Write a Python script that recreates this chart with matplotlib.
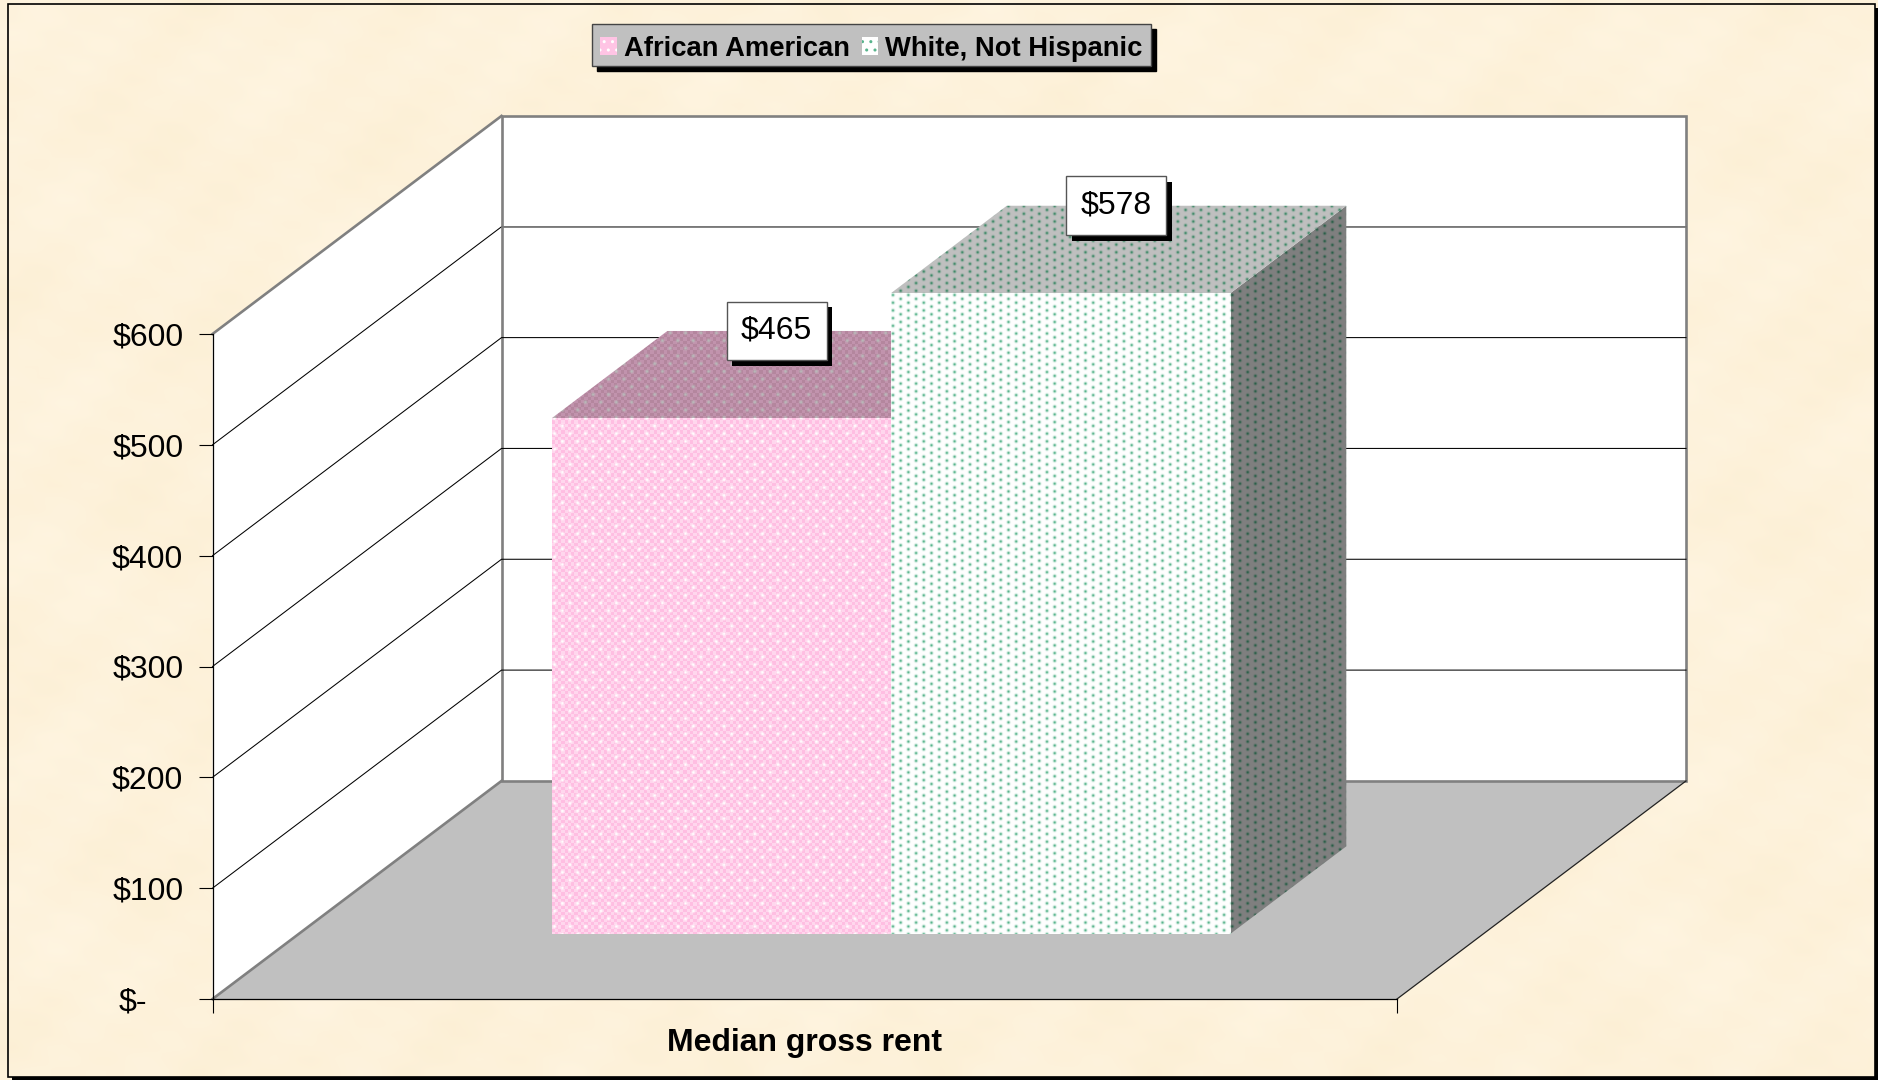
import numpy as np
import matplotlib
matplotlib.use('Agg')
import matplotlib.pyplot as plt
import matplotlib.patheffects as pe
from matplotlib.patches import Polygon, Patch, Rectangle
from matplotlib.ticker import FixedLocator
from matplotlib.transforms import ScaledTranslation

plt.rcParams['font.family'] = ['Liberation Sans', 'DejaVu Sans']

# data
category = 'Median gross rent'
series = ['African American', 'White, Not Hispanic']
values = [465, 578]
value_labels = ['$465', '$578']
y_ticks = [0, 100, 200, 300, 400, 500, 600]
y_labels = ['$-', '$100', '$200', '$300', '$400', '$500', '$600']

W, H = 1878, 1080
DPI = 100

# oblique 3D look: how far the back wall is shifted from the front plane
DEPTH_X = 289 / 1184.5   # in axis x units
DEPTH_Y = 218 / 1.108    # in dollars
BAR_MARGIN = 0.2132
BAR_WIDTH = 0.2866
BAR_D0, BAR_D1 = 0.3, 0.7


def project(x, val, d):
    return (x + d * DEPTH_X, val + d * DEPTH_Y)


def lattice(px, py, cw, ch, sigma):
    # soft dots on a staggered grid, 0..1
    out = np.zeros(px.shape)
    for ox, oy in [(0, 0), (cw / 2, ch / 2)]:
        dx = (px - ox + cw / 2) % cw - cw / 2
        dy = (py - oy + ch / 2) % ch - ch / 2
        out = np.maximum(out, np.exp(-(dx**2 + dy**2) / (2 * sigma**2)))
    return out


def mix(base, top, w):
    base = np.array(matplotlib.colors.to_rgb(base))
    top = np.array(matplotlib.colors.to_rgb(top))
    return base[None, None, :] * (1 - w[..., None]) + top[None, None, :] * w[..., None]


def pink_tex(c1, c2, dot):
    def tex(px, py):
        cell = 3.3
        chk = ((np.floor(px / cell) + np.floor(py / cell)) % 2)
        img = mix(c1, c2, chk)
        w = lattice(px, py, 15.4, 15.4, 1.25)[..., None]
        return img * (1 - w) + np.array(matplotlib.colors.to_rgb(dot))[None, None, :] * w
    return tex


def green_tex(base, dot):
    def tex(px, py):
        return mix(base, dot, lattice(px, py, 15.4, 7.7, 1.05))
    return tex


def face(ax, pts, tex, zorder):
    # fill a polygon given in data coordinates with a pixel pattern
    pts = np.array(pts)
    x0, x1 = pts[:, 0].min(), pts[:, 0].max()
    y0, y1 = pts[:, 1].min(), pts[:, 1].max()
    (d0x, d0y), (d1x, d1y) = ax.transData.transform([(x0, y0), (x1, y1)])
    nx, ny = int(np.ceil(d1x - d0x)), int(np.ceil(d1y - d0y))
    px, py = np.meshgrid(d0x + np.arange(nx) + 0.5, d0y + np.arange(ny) + 0.5)
    im = ax.imshow(tex(px, py), extent=(x0, x1, y0, y1), origin='lower', aspect='auto',
                   interpolation='nearest', zorder=zorder)
    im.set_clip_path(Polygon(pts, transform=ax.transData))
    im.set_clip_box(ax.figure.bbox)


fig = plt.figure(figsize=(W / DPI, H / DPI), dpi=DPI)

# parchment background, with a frame and its shadow
bg = fig.add_axes([0, 0, 1, 1], zorder=0)
bg.set_axis_off()
yy, xx = np.mgrid[0:H:12, 0:W:12]
blotch = (np.sin(xx / 37 + 1.3 * np.sin(yy / 61)) + np.sin(yy / 29 + 0.9 * np.cos(xx / 83))
          + np.sin((xx + yy) / 17) + 0.7 * np.sin((xx - 2 * yy) / 11))
paper = np.dstack([253.5 + 0.3 * blotch, 242 + 0.7 * blotch, 219 + 1.6 * blotch]).clip(0, 255) / 255
bg.imshow(paper, extent=(0, W, H, 0), aspect='auto', interpolation='bilinear', zorder=0)
bg.set_xlim(0, W)
bg.set_ylim(H, 0)
bg.add_patch(Rectangle((12, 8), W, H, fc='black', ec='none', zorder=1))
bg.imshow(paper, extent=(8, 1875, 1077, 3), aspect='auto', interpolation='bilinear', zorder=2)
bg.add_patch(Rectangle((7.5, 3.5), 1867.5, 1073.5, fc='none', ec='black', lw=1.2, zorder=3))
bg.set_xlim(0, W)
bg.set_ylim(H, 0)

ax = fig.add_axes([212.5 / W, 81 / H, 1184.5 / W, 665 / H], zorder=1)
ax.patch.set_visible(False)
ax.set_xlim(0, 1)
ax.set_ylim(0, 600)
ax.set_autoscale_on(False)

top_val = y_ticks[-1]
wall_gray = '#808080'

# floor and walls
floor = [project(0, 0, 0), project(1, 0, 0), project(1, 0, 1), project(0, 0, 1)]
side = [project(0, 0, 0), project(0, top_val, 0), project(0, top_val, 1), project(0, 0, 1)]
back = [project(0, 0, 1), project(1, 0, 1), project(1, top_val, 1), project(0, top_val, 1)]
ax.add_patch(Polygon(floor, fc='#C0C0C0', ec='none', zorder=1, clip_on=False))
ax.add_patch(Polygon(side, fc='white', ec='none', zorder=1, clip_on=False))
ax.add_patch(Polygon(back, fc='white', ec=wall_gray, lw=1.9, zorder=1.1, clip_on=False, joinstyle='miter'))

# grid lines go along the side wall and across the back wall
for val in y_ticks[1:-1]:
    line = [project(0, val, 0), project(0, val, 1), project(1, val, 1)]
    xs, ys = zip(*line)
    ax.plot(xs, ys, color='black', lw=0.75, zorder=1.2, clip_on=False)
    if val == 500:
        ax.plot(xs[1:], ys[1:], color=wall_gray, lw=1.3, zorder=1.25, clip_on=False)

# wall edges
for a, b, col, lw in [(project(0, 0, 0), project(0, 0, 1), wall_gray, 1.9),
                      (project(0, top_val, 0), project(0, top_val, 1), wall_gray, 1.9),
                      (project(1, 0, 0), project(1, 0, 1), '#222222', 0.9)]:
    ax.plot([a[0], b[0]], [a[1], b[1]], color=col, lw=lw, zorder=1.3, clip_on=False)

# bars
textures = [
    (pink_tex('#FFBEE2', '#FFD6ED', '#FFFFFF'),
     pink_tex('#B4869E', '#C293AD', '#B9B9B9'),
     pink_tex('#806070', '#8C6A7C', '#808080')),
    (green_tex('#FFFFFF', '#58B48C'),
     green_tex('#C0C0C0', '#3F8A68'),
     green_tex('#808080', '#2A5F48')),
]
for i, val in enumerate(values):
    x0 = BAR_MARGIN + i * BAR_WIDTH
    x1 = x0 + BAR_WIDTH
    tex_front, tex_top, tex_side = textures[i]
    z = 2 + i * 0.1
    face(ax, [project(x1, 0, BAR_D0), project(x1, val, BAR_D0),
              project(x1, val, BAR_D1), project(x1, 0, BAR_D1)], tex_side, z)
    face(ax, [project(x0, val, BAR_D0), project(x1, val, BAR_D0),
              project(x1, val, BAR_D1), project(x0, val, BAR_D1)], tex_top, z + 0.01)
    face(ax, [project(x0, 0, BAR_D0), project(x1, 0, BAR_D0),
              project(x1, val, BAR_D0), project(x0, val, BAR_D0)], tex_front, z + 0.02)

# value labels sit on the back edge of each bar top, centred on the top face
for i, (val, lab) in enumerate(zip(values, value_labels)):
    cx = BAR_MARGIN + (i + 0.5) * BAR_WIDTH
    lx = project(cx, val, (BAR_D0 + BAR_D1) / 2)[0] - 0.0022
    ly = project(cx, val, BAR_D1)[1]
    t = ax.text(lx, ly, lab, ha='center', va='center', fontsize=23, zorder=5,
                bbox=dict(boxstyle='square,pad=0.45', fc='white', ec='#555555', lw=1.0))
    t.get_bbox_patch().set_path_effects([
        pe.SimplePatchShadow(offset=(4, -4), shadow_rgbFace='black', alpha=1), pe.Normal()])

# axes
for s in ['top', 'right']:
    ax.spines[s].set_visible(False)
for s in ['left', 'bottom']:
    ax.spines[s].set_color('black')
    ax.spines[s].set_linewidth(0.9)
    ax.spines[s].set_zorder(3)
ax.set_yticks(y_ticks, y_labels, fontsize=23)
ax.tick_params(axis='y', length=10, width=0.8, pad=11)
ax.set_xticks([0, 1], ['', ''])
ax.tick_params(axis='x', which='major', length=10, width=0.8)
ax.xaxis.set_minor_locator(FixedLocator([0.5]))
ax.set_xticklabels([category], minor=True, fontsize=23, fontweight='bold')
ax.tick_params(axis='x', which='minor', length=0, pad=21)
zero_label = ax.get_yticklabels()[0]
zero_label.set_transform(zero_label.get_transform() + ScaledTranslation(-36 / DPI, 0, fig.dpi_scale_trans))

# legend
handles = [Patch(facecolor='#FFC4E4', edgecolor='white', hatch='..', lw=0, label=series[0]),
           Patch(facecolor='white', edgecolor='#58B48C', hatch='..', lw=0, label=series[1])]
leg = fig.legend(handles=handles, ncol=2, loc='upper left',
                 bbox_to_anchor=(592 / W, 1 - 24 / H), bbox_transform=fig.transFigure,
                 prop={'weight': 'bold', 'size': 19.7}, fancybox=False, facecolor='#C0C0C0',
                 edgecolor='#444444', framealpha=1, borderaxespad=0, borderpad=0.3,
                 handlelength=0.62, handleheight=0.62, handletextpad=0.25, columnspacing=0.42,
                 shadow={'color': 'black', 'alpha': 1, 'ox': 3.6, 'oy': -3.6})
leg.get_frame().set_linewidth(1.0)
# nudge the entries down, they sit high in the box otherwise
for txt in leg.get_texts():
    txt.set_y(-3.5)
for p in leg.get_patches():
    p.set_y(p.get_y() - 2.5)

fig.savefig('out.png', dpi=DPI)
